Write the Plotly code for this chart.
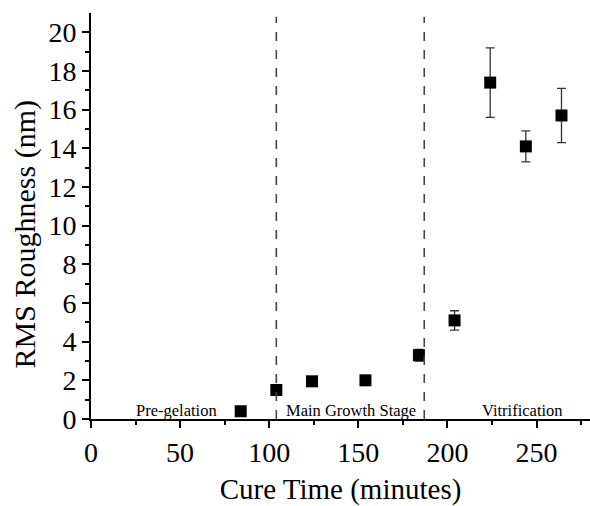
import plotly.graph_objects as go

cure_time = [84, 104, 124, 154, 184, 204, 224, 244, 264]
rms = [0.4, 1.5, 1.95, 2.0, 3.3, 5.1, 17.4, 14.1, 15.7]
rms_err = [0.1, 0.15, 0.15, 0.15, 0.3, 0.5, 1.8, 0.8, 1.4]
stage_bounds = [104, 187]
stage_labels = ["Pre-gelation", "Main Growth Stage", "Vitrification"]
stage_label_x = [48, 146, 242]

font = "Liberation Serif, Times New Roman, serif"

fig = go.Figure()
fig.add_trace(go.Scatter(
    x=cure_time, y=rms, mode="markers",
    marker=dict(symbol="square", size=12, color="black"),
    error_y=dict(type="data", array=rms_err, visible=True, color="#333333", thickness=1.3, width=4.5),
    showlegend=False,
))

for b in stage_bounds:
    fig.add_shape(type="line", x0=b, x1=b, y0=0, y1=20.8, xref="x", yref="y",
                  line=dict(color="#444444", width=1.6, dash="dash"))

for lbl, lx in zip(stage_labels, stage_label_x):
    fig.add_annotation(x=lx, y=0, text=lbl, showarrow=False, xref="x", yref="y",
                       yanchor="bottom", yshift=-3, font=dict(family=font, size=16.5, color="black"))

fig.add_annotation(x=-0.132, y=0.455, xref="paper", yref="paper", text="RMS Roughness (nm)",
                   textangle=-90, showarrow=False, xanchor="center", yanchor="middle",
                   font=dict(family=font, size=30, color="black"))

fig.update_layout(
    width=590, height=506,
    margin=dict(l=91, r=0, t=13, b=87),
    plot_bgcolor="white", paper_bgcolor="white",
    font=dict(family=font, color="black"),
    xaxis=dict(range=[0, 280], tickvals=[0, 50, 100, 150, 200, 250], ticks="outside",
               ticklen=7, tickwidth=1.5, tickcolor="black", showline=True, linecolor="black",
               linewidth=1.8, showgrid=False, zeroline=False, automargin=False,
               tickfont=dict(family=font, size=28, color="black"),
               minor=dict(tickvals=[25, 75, 125, 175, 225, 275], ticks="outside", ticklen=4, tickwidth=1.5, tickcolor="black"),
               title=dict(text="Cure Time (minutes)", font=dict(family=font, size=29, color="black"))),
    yaxis=dict(range=[0, 21], tickvals=list(range(0, 21, 2)), ticks="outside",
               ticklen=7, tickwidth=1.5, tickcolor="black", showline=True, linecolor="black",
               linewidth=1.8, showgrid=False, zeroline=False, automargin=False,
               tickfont=dict(family=font, size=28, color="black"),
               minor=dict(tickvals=list(range(1, 21, 2)), ticks="outside", ticklen=4, tickwidth=1.5, tickcolor="black")),
)

fig.write_html("out.html")
